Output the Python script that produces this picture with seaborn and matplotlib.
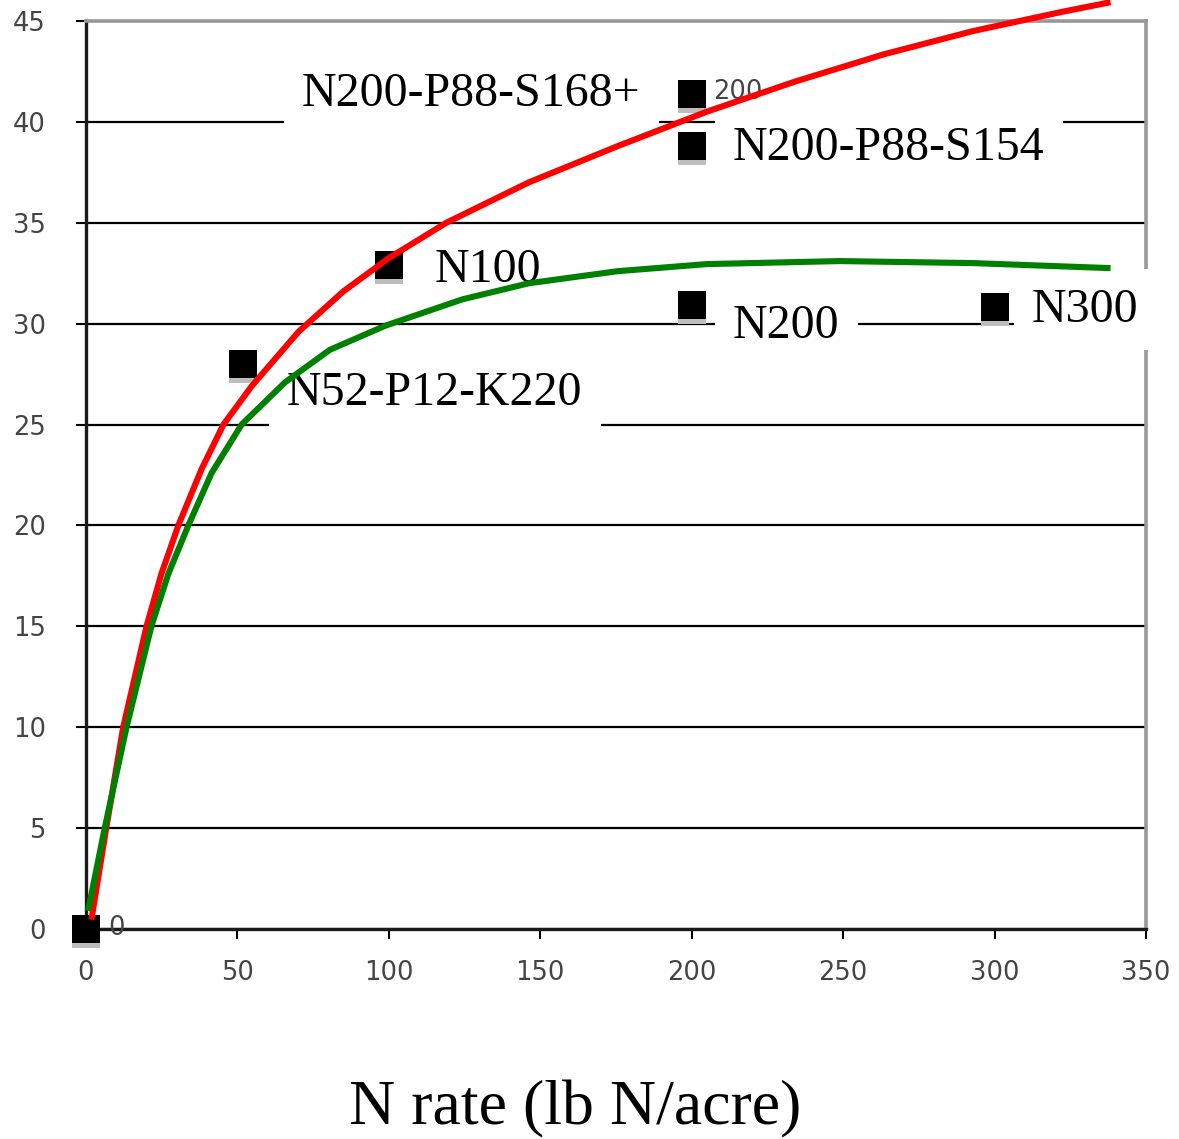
import matplotlib
matplotlib.use("Agg")
import matplotlib.pyplot as plt
import matplotlib.transforms as mtransforms
import seaborn as sns
import pandas as pd

sns.set_style("white")

# measured treatments
n_rate = [0, 52, 100, 200, 200, 200, 300]
yield_val = [0, 28.0, 32.9, 41.4, 38.8, 30.9, 30.8]

# fitted curves
red_rate = [1.8, 6.7, 12.3, 20, 24.9, 30.5, 38.2, 45.4, 54.7, 70.2, 85, 100, 119,
            146.2, 175.6, 204.9, 234.2, 263.5, 292.9, 322.2, 338.3]
red_yield = [0.46, 5, 10, 15, 17.6, 20, 22.8, 25, 26.9, 29.6, 31.6, 33.25, 35,
             37.0, 38.8, 40.5, 42.0, 43.35, 44.5, 45.45, 45.93]
green_rate = [0.7, 6.2, 13.4, 21.6, 27.2, 33.8, 41.5, 51.4, 65.8, 80.5, 98.9,
              124.2, 146.2, 175.6, 204.9, 248.9, 292.9, 338.3]
green_yield = [0.9, 5, 10, 15, 17.6, 20, 22.6, 25, 27.1, 28.7, 29.9,
               31.2, 32.0, 32.6, 32.95, 33.1, 33.0, 32.75]

treatments = ["N52-P12-K220", "N100", "N200-P88-S168+", "N200-P88-S154", "N200", "N300"]
xticks = [0, 50, 100, 150, 200, 250, 300, 350]
yticks = [0, 5, 10, 15, 20, 25, 30, 35, 40, 45]

pts = pd.DataFrame({"rate": n_rate, "yield": yield_val})
red = pd.DataFrame({"rate": red_rate, "yield": red_yield})
green = pd.DataFrame({"rate": green_rate, "yield": green_yield})

fig = plt.figure(figsize=(11.79, 11.39), dpi=100)
ax = fig.add_axes([0.0729, 0.1844, 0.8991, 0.7972])

# squares with a grey shadow underneath
sns.scatterplot(data=pts, x="rate", y="yield", marker="s", s=380, color="#bdbdbd",
                linewidth=0, ax=ax, zorder=3)
sns.scatterplot(data=pts, x="rate", y="yield", marker="s", s=380, color="black",
                linewidth=0, ax=ax, zorder=3.1)
shadow = ax.collections[0]
shadow.set_offset_transform(mtransforms.offset_copy(ax.transData, fig=fig, x=0, y=-5, units="dots"))
for c in ax.collections:
    c.set_clip_on(False)

sns.lineplot(data=red, x="rate", y="yield", color="#ff0000", lw=4.4, sort=False,
             estimator=None, ax=ax, zorder=5, clip_on=False,
             solid_joinstyle="round", solid_capstyle="butt")
sns.lineplot(data=green, x="rate", y="yield", color="#008000", lw=4.4, sort=False,
             estimator=None, ax=ax, zorder=5, clip_on=False,
             solid_joinstyle="round", solid_capstyle="butt")

ax.set_xlim(0, 350)
ax.set_ylim(0, 45)
ax.set_xticks(xticks)
ax.set_yticks(yticks)
ax.set_xlabel("")
ax.set_ylabel("")

ax.yaxis.grid(True, color="black", lw=1.6)
ax.set_axisbelow(True)
for side in ["left", "bottom"]:
    ax.spines[side].set_color("#1a1a1a")
    ax.spines[side].set_linewidth(2.4)
for side in ["right", "top"]:
    ax.spines[side].set_color("#999999")
    ax.spines[side].set_linewidth(2.6)

tick_font = dict(family="DejaVu Sans", size=18.5, color="#444444")
ax.tick_params(axis="y", direction="out", length=7, width=1.5, color="black", pad=22, left=True)
ax.tick_params(axis="x", direction="out", length=7, width=1.5, color="black", pad=15, bottom=True)
for lab in ax.get_xticklabels() + ax.get_yticklabels():
    lab.set_fontfamily("DejaVu Sans")
    lab.set_fontsize(18.5)
    lab.set_color("#444444")

serif = dict(family="Liberation Serif", size=34.5, color="black")
box = dict(facecolor="white", edgecolor="none", pad=13)

ax.text(66.4, 25.97, treatments[0], va="baseline", ha="left", bbox=box, zorder=4, clip_on=False, **serif)
ax.text(115.2, 32.06, treatments[1], va="baseline", ha="left", zorder=4, clip_on=False, **serif)
ax.text(71.3, 40.8, treatments[2], va="baseline", ha="left", bbox=box, zorder=4, clip_on=False, **serif)
ax.text(213.6, 38.1, treatments[3], va="baseline", ha="left", bbox=box, zorder=4, clip_on=False, **serif)
ax.text(213.6, 29.29, treatments[4], va="baseline", ha="left", bbox=box, zorder=4, clip_on=False, **serif)
ax.text(312.3, 30.1, treatments[5], va="baseline", ha="left", bbox=box, zorder=4, clip_on=False, **serif)

# small data labels from the spreadsheet
ax.text(207, 41.5, "200", va="center", ha="left", zorder=4, **tick_font)
ax.text(7.3, 0.05, "0", va="center", ha="left", zorder=4, clip_on=False, **tick_font)

fig.text(0.488, 0.0125, "N rate (lb N/acre)", ha="center", va="baseline",
         family="Liberation Serif", size=46, color="black")

fig.savefig("out.png", dpi=100)
